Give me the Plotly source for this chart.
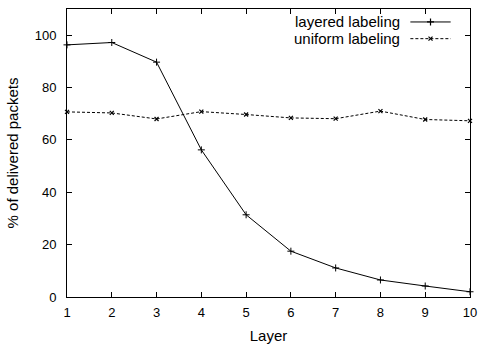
import plotly.graph_objects as go

layers = [1, 2, 3, 4, 5, 6, 7, 8, 9, 10]
layered_labeling = [96.3, 97.2, 89.7, 56.2, 31.4, 17.5, 11.1, 6.5, 4.2, 2.0]
uniform_labeling = [70.7, 70.3, 68.0, 70.8, 69.7, 68.4, 68.1, 71.0, 67.8, 67.3]
y_ticks = [0, 20, 40, 60, 80, 100]

FONT = "Liberation Sans, Arial, Helvetica, sans-serif"

fig = go.Figure()

fig.add_trace(go.Scatter(
    x=layers, y=layered_labeling, mode="lines+markers", name="layered labeling",
    line=dict(color="black", width=1),
    marker=dict(symbol="cross-thin", size=5, line=dict(color="black", width=1)),
    showlegend=False, cliponaxis=False,
))
fig.add_trace(go.Scatter(
    x=layers, y=uniform_labeling, mode="lines+markers", name="uniform labeling",
    line=dict(color="black", width=1, dash="3px,2px"),
    marker=dict(symbol="x-thin", size=4, line=dict(color="black", width=1.2)),
    showlegend=False, cliponaxis=False,
))

# gnuplot-style key: text on the left, line sample on the right
# (positions are fractions of the plotting area)
key_rows = [
    ("layered labeling", None, "cross-thin", 5, 0.955),
    ("uniform labeling", "3px,2px", "x-thin", 4, 0.897),
]
for label, dash, symbol, msize, ky in key_rows:
    fig.add_trace(go.Scatter(
        x=[0.852, 0.902, 0.952], y=[ky, ky, ky], mode="lines",
        line=dict(color="black", width=1, dash=dash),
        xaxis="x2", yaxis="y2", showlegend=False, hoverinfo="skip",
    ))
    fig.add_trace(go.Scatter(
        x=[0.902], y=[ky], mode="markers",
        marker=dict(symbol=symbol, size=msize, line=dict(color="black", width=1.2)),
        xaxis="x2", yaxis="y2", showlegend=False, hoverinfo="skip",
    ))
    fig.add_annotation(
        x=0.8275, y=ky, xref="x2", yref="y2", text=label, showarrow=False,
        xanchor="right", yanchor="middle", xshift=2,
        font=dict(family=FONT, size=15, color="black"),
    )

axis_common = dict(
    showline=True, linecolor="black", linewidth=1, mirror="ticks",
    ticks="inside", ticklen=5, tickcolor="black", tickwidth=1,
    showgrid=False, zeroline=False,
    tickfont=dict(family=FONT, size=13, color="black"),
)

fig.update_layout(
    width=485, height=350,
    margin=dict(l=67, r=8, t=8, b=53),
    paper_bgcolor="white", plot_bgcolor="white",
    font=dict(family=FONT, color="black"),
    xaxis=dict(range=[1, 10], tickvals=layers, ticklabelstandoff=3,
               title=dict(text="Layer", font=dict(family=FONT, size=15), standoff=11),
               **axis_common),
    yaxis=dict(range=[0, 110], tickvals=y_ticks, ticklabelstandoff=7,
               title=dict(text="% of delivered packets", font=dict(family=FONT, size=15), standoff=12),
               **axis_common),
    xaxis2=dict(range=[0, 1], overlaying="x", visible=False, fixedrange=True),
    yaxis2=dict(range=[0, 1], overlaying="y", visible=False, fixedrange=True),
)

fig.write_html("out.html")
